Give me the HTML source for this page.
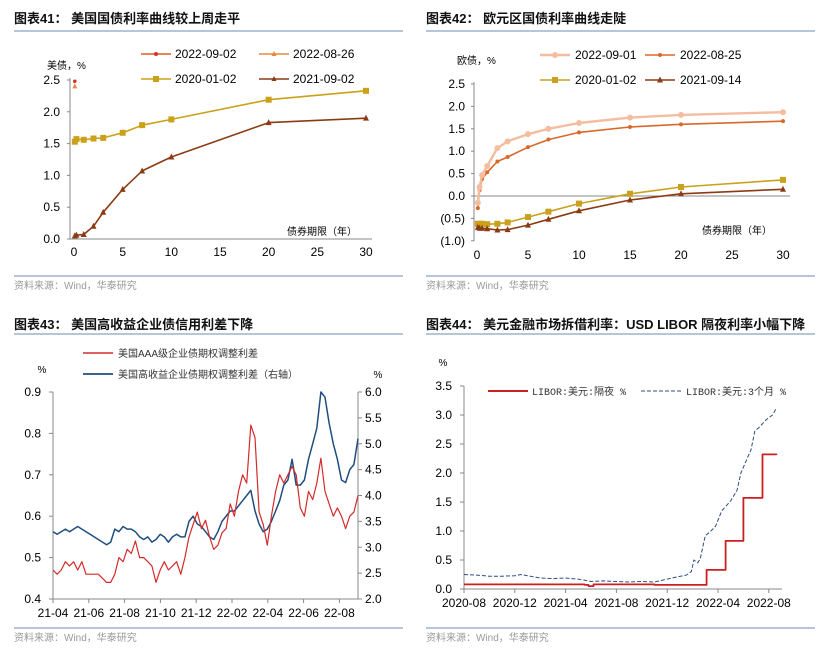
<!DOCTYPE html>
<html><head><meta charset="utf-8"><style>
html,body{margin:0;padding:0;background:#fff;}
svg{display:block;font-family:"Liberation Sans","Noto Sans CJK SC",sans-serif;}
</style></head><body>
<svg id="root" width="831" height="656" viewBox="0 0 831 656" xmlns="http://www.w3.org/2000/svg">
<g font-weight="bold" font-size="13" fill="#111">
<text x="14" y="23">图表41：  美国国债利率曲线较上周走平</text>
<text x="426" y="23">图表42：  欧元区国债利率曲线走陡</text>
<text x="14" y="329">图表43：  美国高收益企业债信用利差下降</text>
<text x="426" y="329">图表44：  美元金融市场拆借利率：USD LIBOR 隔夜利率小幅下降</text>
</g>
<g stroke="#8aa4c0" stroke-width="1.2">
<line x1="14" y1="31" x2="403" y2="31"/>
<line x1="426" y1="31" x2="815" y2="31"/>
<line x1="14" y1="276" x2="403" y2="276"/>
<line x1="426" y1="276" x2="815" y2="276"/>
<line x1="14" y1="334" x2="403" y2="334"/>
<line x1="426" y1="334" x2="815" y2="334"/>
<line x1="14" y1="628" x2="403" y2="628"/>
<line x1="426" y1="628" x2="815" y2="628"/>
</g>
<g font-size="10" fill="#999">
<text x="14" y="289">资料来源：Wind，华泰研究</text>
<text x="426" y="289">资料来源：Wind，华泰研究</text>
<text x="14" y="641">资料来源：Wind，华泰研究</text>
<text x="426" y="641">资料来源：Wind，华泰研究</text>
</g>
</svg>
<script>
// ---- Chart 41 data ----
var c41Tenors = [0.083,0.25,1,2,3,5,7,10,20,30];
var c41S2020 = [1.53,1.57,1.56,1.58,1.59,1.67,1.79,1.88,2.19,2.33];
var c41S2021 = [0.05,0.06,0.07,0.20,0.42,0.78,1.07,1.29,1.83,1.90];
var c41S0902 = [2.48];
var c41S0826 = [2.40];
var c41YTicks = [0,0.5,1.0,1.5,2.0,2.5];
var c41XTicks = [0,5,10,15,20,25,30];
// ---- Chart 42 data ----
var c42Tenors = [0.083,0.25,0.5,1,2,3,5,7,10,15,20,30];
var c42S0901 = [-0.15,0.20,0.47,0.67,1.07,1.22,1.38,1.50,1.63,1.75,1.81,1.87];
var c42S0825 = [-0.27,0.13,0.38,0.53,0.77,0.87,1.09,1.26,1.42,1.54,1.60,1.67];
var c42S2020 = [-0.62,-0.62,-0.62,-0.63,-0.62,-0.59,-0.47,-0.35,-0.17,0.05,0.20,0.36];
var c42S2021 = [-0.70,-0.72,-0.72,-0.73,-0.76,-0.75,-0.65,-0.52,-0.33,-0.09,0.05,0.15];
var c42YTicks = [-1.0,-0.5,0,0.5,1.0,1.5,2.0,2.5];
var c42XTicks = [0,5,10,15,20,25,30];
// ---- Chart 43 data (weekly from 2021-04-01) ----
var c43AAA = [0.47,0.46,0.47,0.49,0.48,0.49,0.47,0.49,0.46,0.46,0.46,0.46,0.45,0.44,0.44,0.46,0.50,0.49,0.52,0.51,0.54,0.50,0.50,0.49,0.48,0.44,0.47,0.49,0.47,0.48,0.49,0.46,0.50,0.55,0.58,0.61,0.57,0.59,0.55,0.52,0.53,0.56,0.57,0.63,0.60,0.66,0.70,0.68,0.82,0.79,0.61,0.58,0.53,0.60,0.66,0.70,0.68,0.70,0.72,0.70,0.62,0.60,0.66,0.64,0.68,0.74,0.66,0.63,0.60,0.62,0.60,0.57,0.60,0.61,0.65];
var c43HY = [3.30,3.25,3.30,3.35,3.30,3.35,3.40,3.35,3.30,3.25,3.20,3.15,3.10,3.05,3.10,3.35,3.30,3.40,3.35,3.35,3.30,3.20,3.15,3.20,3.10,3.15,3.25,3.20,3.10,3.20,3.25,3.20,3.20,3.50,3.60,3.45,3.40,3.30,3.20,3.15,3.30,3.50,3.60,3.70,3.70,3.80,3.90,4.00,4.10,3.70,3.45,3.30,3.35,3.50,3.70,3.90,4.20,4.30,4.70,4.20,4.20,4.30,4.70,5.00,5.30,6.00,5.90,5.40,5.00,4.70,4.30,4.25,4.50,4.60,5.10];
var c43XLabels = ["21-04","21-06","21-08","21-10","21-12","22-02","22-04","22-06","22-08"];
var c43LTicks = [0.4,0.5,0.6,0.7,0.8,0.9];
var c43RTicks = [2.0,2.5,3.0,3.5,4.0,4.5,5.0,5.5,6.0];
// ---- Chart 44 data (months since 2020-08) ----
var c44ONm = [0,9.5,9.8,10.2,15,19.1,20.6,22.0,23.5,24.6];
var c44ONv = [0.08,0.07,0.05,0.08,0.07,0.33,0.83,1.57,2.32,2.31];
var c443Mm = [0,1,2,3,4,4.5,5,6,7,8,8.5,9,10,11,12,13,14,15,16,16.8,17.5,17.9,18.1,18.4,18.6,19.0,19.3,19.8,20.3,20.6,21.0,21.5,21.8,22.2,22.6,22.9,23.3,23.8,24.3,24.6];
var c443Mv = [0.25,0.24,0.22,0.22,0.23,0.25,0.23,0.19,0.18,0.19,0.18,0.17,0.13,0.14,0.13,0.12,0.13,0.12,0.17,0.21,0.24,0.30,0.50,0.45,0.52,0.92,0.97,1.08,1.35,1.42,1.52,1.70,2.00,2.20,2.40,2.72,2.80,2.92,3.00,3.12];
var c44XLabels = ["2020-08","2020-12","2021-04","2021-08","2021-12","2022-04","2022-08"];
var c44YTicks = [0,0.5,1.0,1.5,2.0,2.5,3.0,3.5];

var NS="http://www.w3.org/2000/svg", root=document.getElementById('root');
var TS=12;
function mk(tag,attrs,parent){var e=document.createElementNS(NS,tag);for(var k in attrs)e.setAttribute(k,attrs[k]);(parent||root).appendChild(e);return e;}
function txt(x,y,s,size,anchor,fill,name){var e=mk('text',{x:x,y:y,'font-size':size,'text-anchor':anchor,fill:fill||'#000'});e.textContent=s;


return e;}
function line(x1,y1,x2,y2,c,w,name){var e=mk('line',{x1:x1,y1:y1,x2:x2,y2:y2,stroke:c,'stroke-width':w});


return e;}
function poly(pts,c,w,name,dash){var e=mk('polyline',{points:pts.map(function(p){return p[0].toFixed(1)+','+p[1].toFixed(1);}).join(' '),fill:'none',stroke:c,'stroke-width':w,'stroke-linejoin':'round'});if(dash)e.setAttribute('stroke-dasharray',dash);


return e;}
function marker(type,x,y,c,s,name){var e;
if(type==='sq')e=mk('rect',{x:x-s,y:y-s,width:2*s,height:2*s,fill:c});
else if(type==='tri')e=mk('polygon',{points:(x)+','+(y-s-1)+' '+(x-s-0.5)+','+(y+s)+' '+(x+s+0.5)+','+(y+s),fill:c});
else e=mk('circle',{cx:x,cy:y,r:s,fill:c});


return e;}
function fmt1(v){return v.toFixed(1);}
function fmtP(v){return v<0?'('+Math.abs(v).toFixed(1)+')':v.toFixed(1);}

// ===== Chart 41 =====
(function(){
var x=function(t){return 74+t*(366-74)/30;}, y=function(v){return 239-v*(239-80)/2.5;};
line(70,78,70,239,'#888',1,'c41-y-axis');
line(70,239,372,239,'#888',1,'c41-x-axis');
c41YTicks.forEach(function(v){txt(60,y(v)+4,fmt1(v),TS,'end','#000','c41-y-tick');line(67,y(v),70,y(v),'#888',1,'c41-y-tick-mark');});
c41XTicks.forEach(function(v){txt(x(v),256,String(v),TS,'middle','#000','c41-x-tick');});
txt(47,69,'美债，%',10,'start','#000','c41-y-title');
txt(322,235,'债券期限（年）',10,'middle','#000','c41-x-title');
var cols={a:'#cba11a',b:'#8b3b14',c:'#e05a2a',d:'#e58a3c'};
poly(c41Tenors.map(function(t,i){return [x(t),y(c41S2020[i])];}),cols.a,1.6,'c41-series-2020-01-02');
c41Tenors.forEach(function(t,i){marker('sq',x(t),y(c41S2020[i]),cols.a,3,'c41-point-2020');});
poly(c41Tenors.map(function(t,i){return [x(t),y(c41S2021[i])];}),cols.b,1.6,'c41-series-2021-09-02');
c41Tenors.forEach(function(t,i){marker('tri',x(t),y(c41S2021[i]),cols.b,2.5,'c41-point-2021');});
c41S0826.forEach(function(v,i){marker('tri',x(c41Tenors[i]),y(v),cols.d,2,'c41-point-2022-08-26');});
c41S0902.forEach(function(v,i){marker('c',x(c41Tenors[i]),y(v),'#d9302a',1.8,'c41-point-2022-09-02');});
var L=[[141,54,cols.c,'c','2022-09-02'],[259,54,cols.d,'tri','2022-08-26'],[141,79,cols.a,'sq','2020-01-02'],[259,79,cols.b,'tri','2021-09-02']];
L.forEach(function(l){line(l[0],l[1],l[0]+30,l[1],l[2],1.6,'c41-legend-line');marker(l[3],l[0]+15,l[1],l[3]==='c'?'#d9302a':l[2],l[3]==='sq'?3:2,'c41-legend-marker');txt(l[0]+34,l[1]+4,l[4],12,'start','#000','c41-legend-label');});
})();

// ===== Chart 42 =====
(function(){
var x=function(t){return 477+t*(783-477)/30;}, y=function(v){return 196-v*(196-84)/2.5;};
line(474,82,474,241,'#888',1,'c42-y-axis');
line(474,196,790,196,'#888',1,'c42-zero-axis');
c42YTicks.forEach(function(v){txt(465,y(v)+4,fmtP(v),TS,'end','#000','c42-y-tick');line(471,y(v),474,y(v),'#888',1,'c42-y-tick-mark');});
c42XTicks.forEach(function(v){txt(x(v),259,String(v),TS,'middle','#000','c42-x-tick');});
txt(457,64,'欧债，%',10,'start','#000','c42-y-title');
txt(737,234,'债券期限（年）',10,'middle','#000','c42-x-title');
var S=[[c42S2020,'#c9a11c','sq',3,'c42-series-2020-01-02'],[c42S2021,'#8b3b14','tri',2.5,'c42-series-2021-09-14'],[c42S0825,'#d9682b','c',2,'c42-series-2022-08-25'],[c42S0901,'#f5bda0','c',3,'c42-series-2022-09-01']];
S.forEach(function(s){poly(c42Tenors.map(function(t,i){return [x(t),y(s[0][i])];}),s[1],s[4].indexOf('09-01')>0?2.4:1.6,s[4]);
c42Tenors.forEach(function(t,i){marker(s[2],x(t),y(s[0][i]),s[1],s[3],s[4]+'-point');});});
var L=[[540,55,'#f5bda0','c',3,'2022-09-01'],[645,55,'#d9682b','c',2,'2022-08-25'],[540,80,'#c9a11c','sq',3,'2020-01-02'],[645,80,'#8b3b14','tri',2.5,'2021-09-14']];
L.forEach(function(l){line(l[0],l[1],l[0]+30,l[1],l[2],l[0]===540&&l[1]===55?2.4:1.6,'c42-legend-line');marker(l[3],l[0]+15,l[1],l[2],l[4],'c42-legend-marker');txt(l[0]+35,l[1]+4,l[5],12,'start','#000','c42-legend-label');});
})();

// ===== Chart 43 =====
(function(){
var n=c43AAA.length, x=function(i){return 53+i*(358-53)/(n-1);};
var yl=function(v){return 599-(v-0.4)*(599-392)/0.5;}, yr=function(v){return 599-(v-2)*(599-392)/4;};
line(53,392,53,599,'#888',1,'c43-left-axis');
line(358,392,358,599,'#888',1,'c43-right-axis');
line(53,599,358,599,'#888',1,'c43-x-axis');
c43LTicks.forEach(function(v){txt(41,yl(v)+4,fmt1(v),TS,'end','#000','c43-left-tick');line(49,yl(v),53,yl(v),'#888',1,'c43-left-tick-mark');});
c43RTicks.forEach(function(v){txt(365,yr(v)+4,fmt1(v),TS,'start','#000','c43-right-tick');line(358,yr(v),362,yr(v),'#888',1,'c43-right-tick-mark');});
var mpx=17.9;
c43XLabels.forEach(function(s,k){var xx=53+k*2*mpx;txt(xx,617,s,TS,'middle','#000','c43-x-tick');line(xx,599,xx,603,'#888',1,'c43-x-tick-mark');});
txt(42,373,'%',10,'middle','#000','c43-left-unit');
txt(378,378,'%',10,'middle','#000','c43-right-unit');
poly(c43HY.map(function(v,i){return [x(i),yr(v)];}),'#1f4e7e',1.5,'c43-series-hy-oas');
poly(c43AAA.map(function(v,i){return [x(i),yl(v)];}),'#d42b2b',1.2,'c43-series-aaa-oas');
line(83,353,113,353,'#d42b2b',1.4,'c43-legend-line-aaa');
txt(118,357,'美国AAA级企业债期权调整利差',10,'start','#333','c43-legend-aaa');
line(83,374,113,374,'#1f4e7e',1.8,'c43-legend-line-hy');
txt(118,378,'美国高收益企业债期权调整利差（右轴）',10,'start','#333','c43-legend-hy');
})();

// ===== Chart 44 =====
(function(){
var x=function(m){return 464+m*12.7;}, y=function(v){return 589-v*(589-386)/3.5;};
line(464,386,464,589,'#888',1,'c44-y-axis');
line(464,589,782,589,'#888',1,'c44-x-axis');
c44YTicks.forEach(function(v){txt(452,y(v)+4,fmt1(v),TS,'end','#000','c44-y-tick');line(460,y(v),464,y(v),'#888',1,'c44-y-tick-mark');});
c44XLabels.forEach(function(s,k){var xx=x(k*4);txt(xx,607,s,TS,'middle','#000','c44-x-tick');line(xx,589,xx,593,'#888',1,'c44-x-tick-mark');});
txt(443,366,'%',10,'middle','#000','c44-y-unit');
poly(c443Mm.map(function(m,i){return [x(m),y(c443Mv[i])];}),'#2e4d7e',1,'c44-series-3m','4,2');
var pts=[];c44ONm.forEach(function(m,i){if(i>0)pts.push([x(m),y(c44ONv[i-1])]);pts.push([x(m),y(c44ONv[i])]);});
poly(pts,'#cc1f1f',1.8,'c44-series-overnight');
line(488,391,528,391,'#cc1f1f',2,'c44-legend-line-overnight');
var t1=txt(532,395,'LIBOR:美元:隔夜 %',10,'start','#333','c44-legend-overnight');t1.setAttribute('font-family','"Liberation Mono","Noto Sans CJK SC",monospace');
line(641,391,682,391,'#2e4d7e',1,'c44-legend-line-3m').setAttribute('stroke-dasharray','4,2');
var t2=txt(686,395,'LIBOR:美元:3个月 %',10,'start','#333','c44-legend-3m');t2.setAttribute('font-family','"Liberation Mono","Noto Sans CJK SC",monospace');
})();
</script>
</body></html>
